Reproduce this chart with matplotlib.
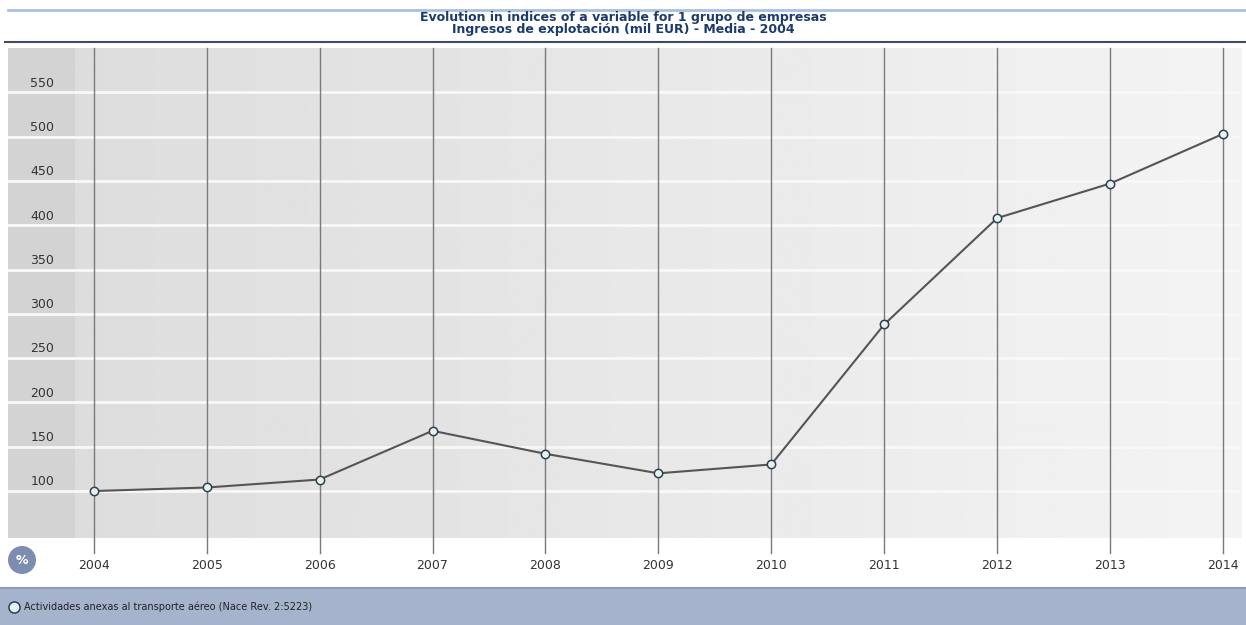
import numpy as np
import matplotlib
matplotlib.use("Agg")
import matplotlib.pyplot as plt
from matplotlib.lines import Line2D
from matplotlib.patches import Rectangle
import matplotlib.transforms as mtrans

years = [2004, 2005, 2006, 2007, 2008, 2009, 2010, 2011, 2012, 2013, 2014]
values = [100, 104, 113, 168, 142, 120, 130, 288, 408, 447, 503]
yticks = [100, 150, 200, 250, 300, 350, 400, 450, 500, 550]
title1 = "Evolution in indices of a variable for 1 grupo de empresas"
title2 = "Ingresos de explotación (mil EUR) - Media - 2004"
series_name = "Actividades anexas al transporte aéreo (Nace Rev. 2:5223)"

W, H = 1246, 625
fig = plt.figure(figsize=(W / 100, H / 100), dpi=100)
fig.patch.set_facecolor("white")

def fx(px):
    return px / W

def fy(py):
    return 1 - py / H

# plot area
ax = fig.add_axes([fx(8), fy(538), fx(1241) - fx(8), fy(48) - fy(538)])
ax.set_xlim(2003.24, 2014.16)
ax.set_ylim(47, 600)

# background gradient, darker strip on the left
grad = np.linspace(0.865, 0.955, 512)
img = np.tile(grad, (2, 1))
ax.imshow(img, cmap="gray", vmin=0, vmax=1, aspect="auto", interpolation="bilinear",
          extent=[0.054, 1, 0, 1], transform=ax.transAxes, zorder=0)
ax.add_patch(Rectangle((0, 0), 0.054, 1, transform=ax.transAxes,
                       color="#d3d3d3", zorder=0, lw=0))

for s in ax.spines.values():
    s.set_visible(False)

blend = mtrans.blended_transform_factory(ax.transAxes, ax.transData)
for v in yticks:
    ax.axhline(v, color="#f8f8f8", lw=2, zorder=1)
    ax.text(0.018, v + 3, str(v), transform=blend,
            ha="left", va="bottom", fontsize=9, color="#333333", zorder=3)

for yr in years:
    ax.axvline(yr, ymin=-0.03, ymax=1, color="#7a7a7a", lw=1, zorder=2, clip_on=False)

ax.plot(years, values, color="#555555", lw=1.5, zorder=4,
        marker="o", ms=6, mfc="#e6f3f3", mec="#2f3f4f", mew=1.1)

ax.set_yticks([])
ax.set_xticks(years)
ax.set_xticklabels([str(y) for y in years], fontsize=9, color="#333333")
ax.tick_params(axis="x", length=0, pad=15)

# header lines and title
fig.add_artist(Line2D([fx(8), 1], [fy(10), fy(10)], color="#a9c0e0", lw=2))
fig.add_artist(Line2D([fx(5), 1], [fy(42), fy(42)], color="#3e4c60", lw=1.5))
fig.text(0.5, fy(17), title1, ha="center", va="center", fontsize=9,
         fontweight="bold", color="#1c3a6c", family="Liberation Sans Narrow")
fig.text(0.5, fy(30), title2, ha="center", va="center", fontsize=9,
         fontweight="bold", color="#1c3a6c", family="Liberation Sans Narrow")

# % badge
fig.text(fx(22), fy(560), "%", ha="center", va="center", fontsize=9,
         fontweight="bold", color="white",
         bbox=dict(boxstyle="circle,pad=0.6", fc="#7d8db0", ec="none"))

# legend band
fig.add_artist(Rectangle((0, 0), 1, fy(588), color="#a6b3cc", lw=0))
fig.add_artist(Line2D([0, 1], [fy(588), fy(588)], color="#8d9bb5", lw=1.5))
fig.add_artist(Line2D([fx(14)], [fy(607)], marker="o", ms=8, mfc="#e6f3f3",
                      mec="#2f3f4f", mew=1.1, ls="none"))
fig.text(fx(24), fy(607), series_name, ha="left", va="center", fontsize=7, color="#222222")

fig.savefig("out.png", dpi=100)
